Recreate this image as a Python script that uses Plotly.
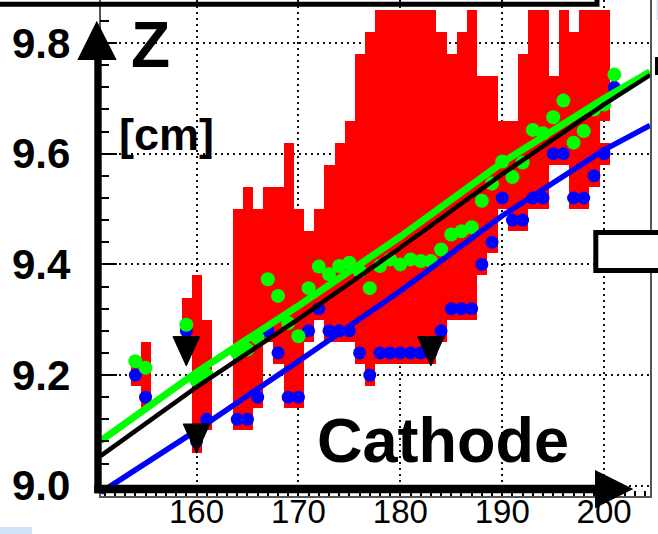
import plotly.graph_objects as go

W, H = 658, 534

# ---------------------------------------------------------------- data
# occupied z-range of each x column of the 2D histogram (bin width 1)
red_x = [154, 155, 159, 160, 161, 164, 165, 166, 167, 168, 169, 170, 171,
         172, 173, 174, 175, 176, 177, 178, 179, 180, 181, 182, 183, 184,
         185, 186, 187, 188, 189, 190, 191, 192, 193, 194, 195, 196, 197,
         198, 199, 200, 200]
red_lo = [9.18, 9.14, 9.26, 9.06, 9.10, 9.10, 9.10, 9.14, 9.26, 9.22, 9.14,
          9.14, 9.26, 9.30, 9.26, 9.26, 9.26, 9.22, 9.18, 9.22, 9.22, 9.22,
          9.22, 9.22, 9.22, 9.26, 9.30, 9.30, 9.30, 9.38, 9.42, 9.50, 9.46,
          9.46, 9.50, 9.50, 9.58, 9.58, 9.50, 9.50, 9.54, 9.58, 9.66]
red_hi = [9.22, 9.26, 9.34, 9.38, 9.30, 9.50, 9.54, 9.50, 9.54, 9.54, 9.62,
          9.50, 9.46, 9.50, 9.58, 9.62, 9.66, 9.78, 9.82, 9.86, 9.86, 9.86,
          9.86, 9.86, 9.86, 9.82, 9.78, 9.82, 9.86, 9.74, 9.74, 9.66, 9.66,
          9.78, 9.86, 9.86, 9.74, 9.86, 9.82, 9.86, 9.86, 9.62, 9.86]

# per-column points: lowest cell (blue) and mean (green)
pt_x = [154, 155, 159, 160, 161, 164, 165, 166, 167, 168, 169, 170, 171,
        172, 173, 174, 175, 176, 177, 178, 179, 180, 181, 182, 183, 184,
        185, 186, 187, 188, 189, 190, 191, 192, 193, 194, 195, 196, 197,
        198, 199, 200, 201]
blue_z = [9.20, 9.16, 9.28, 9.08, 9.12, 9.12, 9.12, 9.16, 9.28, 9.24, 9.16,
          9.16, 9.28, 9.32, 9.28, 9.28, 9.28, 9.24, 9.20, 9.24, 9.24, 9.24,
          9.24, 9.24, 9.24, 9.28, 9.32, 9.32, 9.32, 9.40, 9.44, 9.52, 9.48,
          9.48, 9.52, 9.52, 9.60, 9.60, 9.52, 9.52, 9.56, 9.60, 9.72]
green_z = [9.225, 9.213, 9.291, 9.190, 9.200, 9.240, 9.246, 9.267, 9.373,
           9.343, 9.294, 9.270, 9.357, 9.396, 9.382, 9.397, 9.403, 9.388,
           9.357, 9.397, 9.409, 9.400, 9.409, 9.406, 9.406, 9.427, 9.454,
           9.460, 9.467, 9.515, 9.546, 9.586, 9.558, 9.584, 9.643, 9.637,
           9.666, 9.696, 9.620, 9.641, 9.680, 9.689, 9.743]

# fitted lines
fit_x = [150.6, 160, 170, 180, 190, 200, 204.5]
fit_green = [9.081, 9.205, 9.325, 9.450, 9.584, 9.700, 9.748]
fit_black = [9.054, 9.178, 9.301, 9.430, 9.563, 9.689, 9.742]
fit_blue = [8.988, 9.100, 9.225, 9.352, 9.488, 9.607, 9.651]

# marker triangles (centres)
tri_x = [159, 160, 183]
tri_z = [9.243, 9.085, 9.243]

# axis ticks
x_tick0, x_dtick = 160, 10
y_tick0, y_dtick = 9.0, 0.2

# ---------------------------------------------------------------- helpers
def PX(x):
    return x / W


def PY(y):
    return 1 - y / H


TRI_HW = 1.31     # half width of a triangle, x units
TRI_HH = 0.0265   # half height of a triangle, z units

tri_path_x, tri_path_y = [], []
for tx, tz in zip(tri_x, tri_z):
    tri_path_x += [tx - TRI_HW, tx + TRI_HW, tx, tx - TRI_HW, None]
    tri_path_y += [tz + TRI_HH, tz + TRI_HH, tz - TRI_HH, tz + TRI_HH, None]

RED, GREEN, BLUE = "#ff0000", "#00ff00", "#0000ff"
FONT = "Liberation Sans"

fig = go.Figure()

fig.add_trace(go.Bar(
    x=red_x, base=red_lo, y=[h - l for h, l in zip(red_hi, red_lo)],
    width=1, marker=dict(color=RED, line=dict(width=0)), showlegend=False,
    hoverinfo="skip"))

fig.add_trace(go.Scatter(
    x=pt_x, y=blue_z, mode="markers",
    marker=dict(color=BLUE, size=13, line=dict(width=0)), showlegend=False))
fig.add_trace(go.Scatter(
    x=pt_x, y=green_z, mode="markers",
    marker=dict(color=GREEN, size=14, line=dict(width=0)), showlegend=False))

fig.add_trace(go.Scatter(x=fit_x, y=fit_blue, mode="lines",
                         line=dict(color=BLUE, width=5.5), showlegend=False))
fig.add_trace(go.Scatter(x=fit_x, y=fit_green, mode="lines",
                         line=dict(color=GREEN, width=7), showlegend=False))
fig.add_trace(go.Scatter(x=fit_x, y=fit_black, mode="lines",
                         line=dict(color="#000000", width=4.5),
                         showlegend=False))

fig.add_trace(go.Scatter(
    x=tri_path_x, y=tri_path_y, mode="lines", fill="toself",
    fillcolor="#000000", line=dict(color="#000000", width=1),
    showlegend=False))

# ---------------------------------------------------------------- shapes
shapes = []


def rect(x0, y0, x1, y1, color, layer="above", line=None):
    d = dict(type="rect", xref="paper", yref="paper",
             x0=PX(x0), x1=PX(x1), y0=PY(y1), y1=PY(y0),
             fillcolor=color, layer=layer)
    d["line"] = line if line else dict(width=0)
    shapes.append(d)


def tri(p1, p2, p3, color="#000000"):
    path = "M{},{} L{},{} L{},{} Z".format(
        PX(p1[0]), PY(p1[1]), PX(p2[0]), PY(p2[1]), PX(p3[0]), PY(p3[1]))
    shapes.append(dict(type="path", xref="paper", yref="paper", path=path,
                       fillcolor=color, line=dict(width=0), layer="above"))


# white backing of the labels (hide the grid behind them)
rect(101, 0, 220, 110, "white", layer="between")
rect(101, 105, 250, 170, "white", layer="between")
rect(290, 393, 615, 484, "white", layer="between")

# thick axis arrows
rect(94.3, 58, 101.7, 493.3, "#000000")
tri((77.3, 60), (116.7, 60), (96.8, 20.7))
rect(94.3, 484.7, 598, 493.3, "#000000")
tri((595, 470), (595, 508.3), (633.3, 489))

# neighbouring panel frames
rect(-20, -20, 597, 4.2, "rgba(0,0,0,0)", line=dict(color="#000000", width=5))
rect(595.8, 232.5, 680, 270.5, "white", line=dict(color="#000000", width=5))
rect(655, 57, 659, 75, "#000000")
rect(656.5, 0, 659, 20, "#cfe2f7")
rect(0, 527, 32, 535, "#cfe2f7")

# ---------------------------------------------------------------- labels
ann = [
    dict(text="<b>Z</b>", x=PX(150), y=PY(45), size=64),
    dict(text="<b>[cm]</b>", x=PX(166), y=PY(134.3), size=45),
    dict(text="<b>Cathode</b>", x=PX(442.5), y=PY(440.4), size=63),
]
annotations = [dict(text=a["text"], x=a["x"], y=a["y"], xref="paper",
                    yref="paper", xanchor="center", yanchor="middle",
                    showarrow=False,
                    font=dict(family=FONT, size=a["size"], color="#000000"))
               for a in ann]

grid = dict(showgrid=True, gridcolor="#111111", gridwidth=2,
            griddash="2px,4px", zeroline=False, showline=True,
            linecolor="#555555", linewidth=1.5, mirror=True,
            ticks="inside", tickcolor="#000000", tickwidth=1.5,
            automargin=False)

fig.update_layout(
    width=W, height=H, margin=dict(l=0, r=0, t=0, b=0, autoexpand=False),
    paper_bgcolor="white", plot_bgcolor="white",
    barmode="overlay", bargap=0,
    shapes=shapes, annotations=annotations,
    xaxis=dict(range=[150.58, 204.5], domain=[PX(100.5), PX(650)],
               tickmode="linear", tick0=x_tick0, dtick=x_dtick, ticklen=10,
               minor=dict(dtick=1, ticklen=5, ticks="inside",
                          tickcolor="#000000"),
               tickfont=dict(family=FONT, size=33, color="#000000"),
               ticklabelstandoff=-14, **grid),
    yaxis=dict(range=[8.9814, 9.8778], domain=[PY(496), 1],
               tickmode="linear", tick0=y_tick0, dtick=y_dtick,
               tickformat=".1f", ticklen=17,
               minor=dict(tick0=9.0, dtick=0.04, ticklen=9, ticks="inside",
                          tickcolor="#000000"),
               tickfont=dict(family=FONT, size=42, color="#000000",
                             weight="bold"),
               ticklabelstandoff=20, **grid),
)

fig.write_html("out.html")
